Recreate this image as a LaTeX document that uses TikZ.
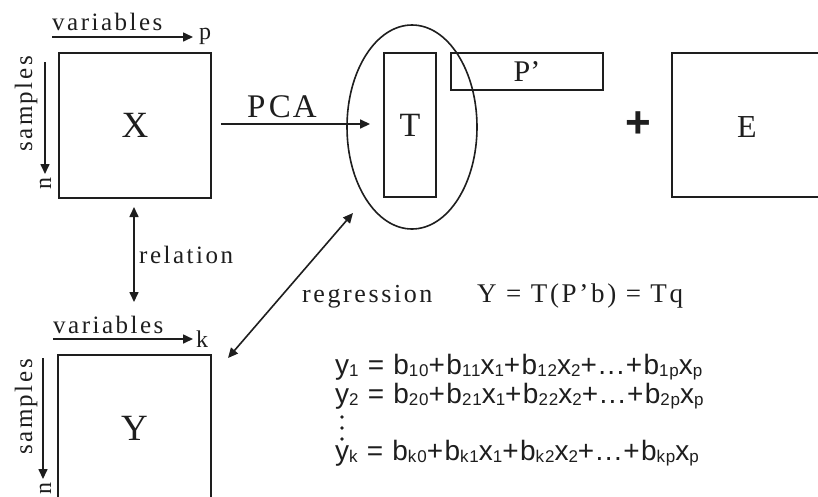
\documentclass[tikz,border=0pt]{standalone}
\usepackage{fontspec}
\setmainfont{Liberation Serif}
\newfontfamily\spc[LetterSpace=10]{Liberation Serif}
\newfontfamily\eqf[LetterSpace=5]{Liberation Sans}
\newfontfamily\plusf{Liberation Sans}
\usetikzlibrary{arrows.meta,shapes.geometric}
\definecolor{ink}{HTML}{1E1E1E}
\newcommand\fs[1]{\fontsize{#1}{#1}\selectfont}
\newcommand\sbs[1]{\raisebox{-2pt}{\fs{17}#1}}
\begin{document}
\begin{tikzpicture}[x=1pt,y=-1pt,
  box/.style={draw=ink, line width=1.9pt, inner sep=0pt, text=ink},
  edge/.style={draw=ink, line width=1.9pt},
  lbl/.style={inner sep=0pt, text=ink},
  arr/.style={draw=ink, line width=1.6pt, -{Triangle[length=10pt,width=9pt]}},
  darr/.style={draw=ink, line width=1.6pt, {Triangle[length=10pt,width=9pt]}-{Triangle[length=10pt,width=9pt]}},
]
\useasboundingbox (0,0) rectangle (818,496);
\fill[white] (0,0) rectangle (818,496);

% X block
\node[box, minimum width=152pt, minimum height=145pt, font=\fs{37}] (X) at (135,125.5) {X};
\node[lbl, anchor=base west, font=\spc\fs{25}] (v1) at (52,30) {variables};
\node[lbl, anchor=base west, font=\fs{24}] (p) at (199,39) {p};
\coordinate (v1s) at (52,37); \coordinate (v1e) at (193,37);
\draw[arr] (v1s) -- (v1e);
\node[lbl, anchor=base west, rotate=90, font=\spc\fs{25}] (s1) at (32,152) {samples};
\node[lbl, anchor=base west, rotate=90, font=\fs{24}] (n1) at (51,190) {n};
\coordinate (s1s) at (45,62); \coordinate (s1e) at (45,174);
\draw[arr] (s1s) -- (s1e);

% PCA
\node[lbl, anchor=base west, font=\spc\fs{33}] (pca) at (247,117) {PC\kern2pt A};
\node[box, minimum width=52pt, minimum height=144pt, font=\fs{34}] (T) at (410,125) {T};
\draw[arr, shorten <=9pt, shorten >=13pt] (X.east |- 0,124) -- (T.west |- 0,124);
\node[draw=ink, line width=1.6pt, ellipse, minimum width=130pt, minimum height=204pt, inner sep=0pt] (ell) at (412,127) {};
\node[box, minimum width=152pt, minimum height=37pt, font=\fs{30}] (P) at (527,71.5) {P’};

% plus and E
\node[lbl, font=\plusf\fs{44}\bfseries] (plus) at (638,125) {+};
\node[lbl, font=\fs{32}] (E) at (747,127) {E};
\draw[edge] (820,53) -- (672,53) -- (672,197) -- (820,197);

% relation
\coordinate (r1) at (134,207); \coordinate (r2) at (134,302);
\draw[darr] (r1) -- (r2);
\node[lbl, anchor=base west, font=\spc\fs{25}] (rel) at (139,263) {relation};

% Y block
\draw[edge] (58,500) -- (58,355) -- (211,355) -- (211,500);
\node[lbl, font=\fs{37}] (Y) at (134.5,428) {Y};
\node[lbl, anchor=base west, font=\spc\fs{25}] (v2) at (53,333) {variables};
\node[lbl, anchor=base west, font=\fs{24}] (k) at (196,347) {k};
\coordinate (v2s) at (53,339); \coordinate (v2e) at (193,339);
\draw[arr] (v2s) -- (v2e);
\node[lbl, anchor=base west, rotate=90, font=\spc\fs{25}] (s2) at (32,455) {samples};
\node[lbl, anchor=base west, rotate=90, font=\fs{24}] (n2) at (51,495) {n};
\coordinate (s2s) at (43,358); \coordinate (s2e) at (43,479);
\draw[arr] (s2s) -- (s2e);

% regression
\coordinate (g1) at (353,213); \coordinate (g2) at (228,358);
\draw[darr] (g1) -- (g2);
\node[lbl, anchor=base west, font=\spc\fs{26}] (reg) at (302,302) {regression};
\node[lbl, anchor=base west, font=\spc\fs{27}] (eqY) at (477,302) {Y = T(P’b) = Tq};

% equations
\node[lbl, anchor=base west, font=\eqf\fs{28}] (e1) at (335,374) {y\sbs{1} = b\sbs{10}+b\sbs{11}x\sbs{1}+b\sbs{12}x\sbs{2}+...+b\sbs{1p}x\sbs{p}};
\node[lbl, anchor=base west, font=\eqf\fs{28}] (e2) at (335,403) {y\sbs{2} = b\sbs{20}+b\sbs{21}x\sbs{1}+b\sbs{22}x\sbs{2}+...+b\sbs{2p}x\sbs{p}};
\node[lbl, anchor=base west, font=\eqf\fs{28}] (e3) at (335,460) {y\sbs{k} = b\sbs{k0}+b\sbs{k1}x\sbs{1}+b\sbs{k2}x\sbs{2}+...+b\sbs{kp}x\sbs{p}};
\fill[ink] (342,417) circle (1.9pt) (342,428) circle (1.9pt) (342,439) circle (1.9pt);
\end{tikzpicture}
\end{document}
